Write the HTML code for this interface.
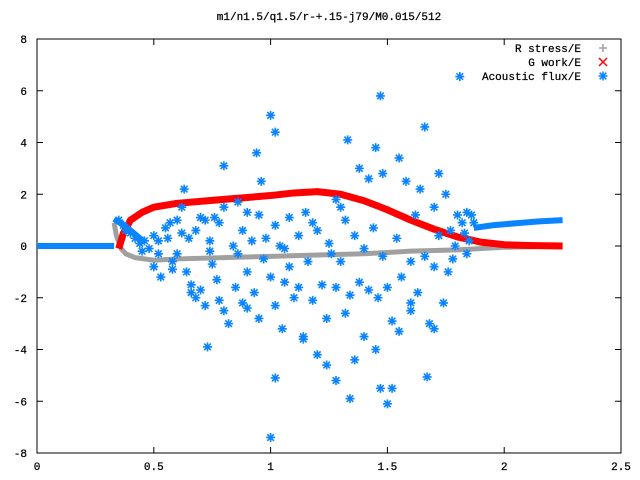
<!DOCTYPE html>
<html><head><meta charset="utf-8"><style>
body{margin:0;background:#fff;}
svg{display:block;font-family:"Liberation Mono","DejaVu Sans Mono",monospace;font-size:11px;}
text{stroke:#000;stroke-width:0.25px;}
</style></head><body>
<svg id="chart" width="640" height="480" viewBox="0 0 640 480" xmlns="http://www.w3.org/2000/svg">
<text x="329" y="20" text-anchor="middle">m1/n1.5/q1.5/r-+.15-j79/M0.015/512</text>
<rect x="37" y="39" width="584" height="414" fill="none" stroke="#000" stroke-width="1"/>
<g id="axes"></g>
<g id="series"></g>
<g id="legend"></g>
</svg>
<script>
const xTicks=[0,0.5,1,1.5,2,2.5];
const xTickLabels=["0","0.5","1","1.5","2","2.5"];
const yTicks=[-8,-6,-4,-2,0,2,4,6,8];
const yTickLabels=["-8","-6","-4","-2","0","2","4","6","8"];
const rStressX=[0.33,0.34,0.36,0.38,0.42,0.5,0.6,0.8,1.0,1.2,1.4,1.6,1.8,2.0,2.25];
const rStressY=[0.9,0.4,-0.1,-0.3,-0.45,-0.55,-0.5,-0.45,-0.4,-0.35,-0.3,-0.2,-0.15,-0.05,0];
const gWorkX=[0.35,0.37,0.4,0.45,0.5,0.6,0.8,1.0,1.1,1.2,1.3,1.4,1.5,1.6,1.7,1.8,1.9,2.0,2.1,2.25];
const gWorkY=[-0.1,0.5,1.0,1.3,1.5,1.65,1.8,1.95,2.05,2.1,2.0,1.75,1.4,1.0,0.65,0.35,0.15,0.05,0.02,0];
const fluxLeftX=[0,0.33];
const fluxLeftY=[0,0];
const fluxDiagX=[0.33,0.38,0.42,0.46];
const fluxDiagY=[1.05,0.75,0.45,0.15];
const fluxRightX=[1.87,1.95,2.05,2.15,2.25];
const fluxRightY=[0.7,0.8,0.88,0.95,1.0];
const fluxPtsX=[0.35,0.37,0.38,0.4,0.42,0.44,0.46,0.48,0.5,0.45,0.52,0.55,0.5,0.53,0.56,0.58,0.6,0.6,0.62,0.63,0.64,0.65,0.66,0.68,0.7,0.7,0.72,0.72,0.74,0.75,0.76,0.77,0.78,0.78,0.8,0.8,0.82,0.8,0.84,0.85,0.86,0.88,0.88,0.9,0.9,0.92,0.93,0.95,0.95,0.97,0.98,1.0,0.94,1.02,1.02,1.04,1.05,1.06,1.08,1.08,1.1,1.02,1.12,1.12,1.14,1.15,1.16,1.18,1.2,1.2,1.22,1.24,1.25,1.26,1.28,1.3,1.3,1.32,1.32,1.34,1.33,1.36,1.38,1.4,1.4,1.42,1.42,1.44,1.45,1.46,1.48,1.48,1.5,1.47,1.52,1.54,1.55,1.56,1.58,1.6,1.6,1.62,1.63,1.66,1.66,1.68,1.7,1.7,1.72,1.74,1.75,1.77,1.78,1.8,1.82,1.84,1.86,1.81,1.0,1.5,1.34,1.28,1.02,0.73,1.67,1.47,1.0,0.57,0.62,0.68,0.74,0.86,0.96,1.06,1.18,1.28,1.38,1.45,1.55,1.64,1.72,1.79,1.83,1.85,1.87,1.84,0.52,0.58,0.66,0.9,1.14,1.24,1.36,1.52,1.6,1.7,1.76];
const fluxPtsY=[1.0,0.8,0.6,0.5,0.3,0.1,0.2,-0.1,0.4,-0.2,-0.3,0.7,-0.8,-1.2,0.3,-0.6,1.0,-0.3,0.5,2.2,-1.0,0.3,-1.5,-2.0,1.1,-1.7,1.0,-2.3,0.2,-0.7,1.1,-1.3,0.9,-2.1,1.5,-2.5,-3.0,3.1,0.0,-1.6,-0.3,0.6,-2.2,1.3,-1.0,0.2,-1.8,1.2,-2.8,-0.5,0.3,-1.2,3.6,0.8,-2.3,0.0,-3.2,-1.4,1.1,-0.8,-2.0,4.4,0.4,-1.6,-3.5,1.3,-0.6,-2.1,0.6,-4.2,-1.5,-2.8,0.1,-0.3,-1.6,1.5,-0.6,-2.6,1.0,-1.9,4.1,0.4,-1.4,-0.1,-3.5,2.6,-1.7,0.7,-4.0,-2.0,2.8,-0.4,-1.6,5.8,-5.5,0.3,-3.3,-1.2,2.5,-0.6,-2.2,1.2,-1.8,4.6,-0.4,-3.0,1.5,-0.8,0.4,-2.2,2.0,0.6,-0.5,1.2,0.9,1.3,1.2,6.55,5.05,-6.1,-5.9,-5.2,-5.1,-3.9,-5.06,-5.5,-7.4,0.9,1.5,0.6,-0.2,1.7,2.5,-0.1,0.9,1.8,3.0,3.8,3.4,2.2,2.8,0.0,0.5,0.2,0.9,-0.3,0.2,-0.9,-1.8,-2.4,-3.6,-4.6,-4.4,-2.9,-2.5,-3.2,-1.0];
const X0=37,X1=621,Y0=453,Y1=39;
const xs=v=>X0+(v-0)/2.5*(X1-X0);
const ys=v=>Y0-(v+8)/16*(Y0-Y1);
const NS="http://www.w3.org/2000/svg";
function mk(tag,attrs,parent){const e=document.createElementNS(NS,tag);for(const k in attrs)e.setAttribute(k,attrs[k]);parent.appendChild(e);return e;}
const axes=document.getElementById('axes');
xTicks.forEach((t,i)=>{
  const x=xs(t);
  const a=mk('line',{x1:x,y1:Y0,x2:x,y2:Y0-6,stroke:'#000'},axes);
  
  
  const b=mk('line',{x1:x,y1:Y1,x2:x,y2:Y1+6,stroke:'#000'},axes);
  
  
  const l=mk('text',{x:x,y:470,'text-anchor':'middle'},axes);l.textContent=xTickLabels[i];
  
  
});
yTicks.forEach((t,i)=>{
  const y=ys(t);
  const a=mk('line',{x1:X0,y1:y,x2:X0+6,y2:y,stroke:'#000'},axes);
  
  
  const b=mk('line',{x1:X1,y1:y,x2:X1-6,y2:y,stroke:'#000'},axes);
  
  
  const l=mk('text',{x:27,y:y+4,'text-anchor':'end'},axes);l.textContent=yTickLabels[i];
  
  
});
const ser=document.getElementById('series');
function poly(X,Y,color,w,name){
  const p=mk('polyline',{points:X.map((x,i)=>xs(x)+','+ys(Y[i])).join(' '),fill:'none',stroke:color,'stroke-width':w,'stroke-linejoin':'round'},ser);
  
  
}
poly(fluxLeftX,fluxLeftY,'#0a84ff',6,'acoustic-flux-left');
poly(rStressX,rStressY,'#a0a0a0',5,'r-stress-line');
poly(gWorkX,gWorkY,'#ff0000',7,'g-work-line');
poly(fluxDiagX,fluxDiagY,'#0a84ff',6,'acoustic-flux-diag');
poly(fluxRightX,fluxRightY,'#0a84ff',6,'acoustic-flux-right');
function star(cx,cy,g){
  const r=4.5;
  const d=`M${cx-r},${cy}H${cx+r}M${cx},${cy-r}V${cy+r}M${cx-3.3},${cy-3.3}L${cx+3.3},${cy+3.3}M${cx-3.3},${cy+3.3}L${cx+3.3},${cy-3.3}`;
  return mk('path',{d:d,stroke:'#0a84ff','stroke-width':1.6,fill:'none'},g);
}
fluxPtsX.forEach((x,i)=>{
  const s=star(xs(x),ys(fluxPtsY[i]),ser);
  
  
});
const lg=document.getElementById('legend');
const entries=[["R stress/E",'#a0a0a0','plus'],["G work/E",'#ff0000','x'],["Acoustic flux/E",'#0a84ff','star']];
entries.forEach((e,i)=>{
  const y=48+i*14;
  const t=mk('text',{x:581,y:y+4,'text-anchor':'end'},lg);t.textContent=e[0];
  
  
  const cx=603;let m;
  if(e[2]==='plus')m=mk('path',{d:`M${cx-4},${y}H${cx+4}M${cx},${y-4}V${y+4}`,stroke:e[1],'stroke-width':1.5},lg);
  else if(e[2]==='x')m=mk('path',{d:`M${cx-4},${y-4}L${cx+4},${y+4}M${cx-4},${y+4}L${cx+4},${y-4}`,stroke:e[1],'stroke-width':1.5},lg);
  else m=star(cx,y,lg);
  
  
});
</script>
</body></html>
